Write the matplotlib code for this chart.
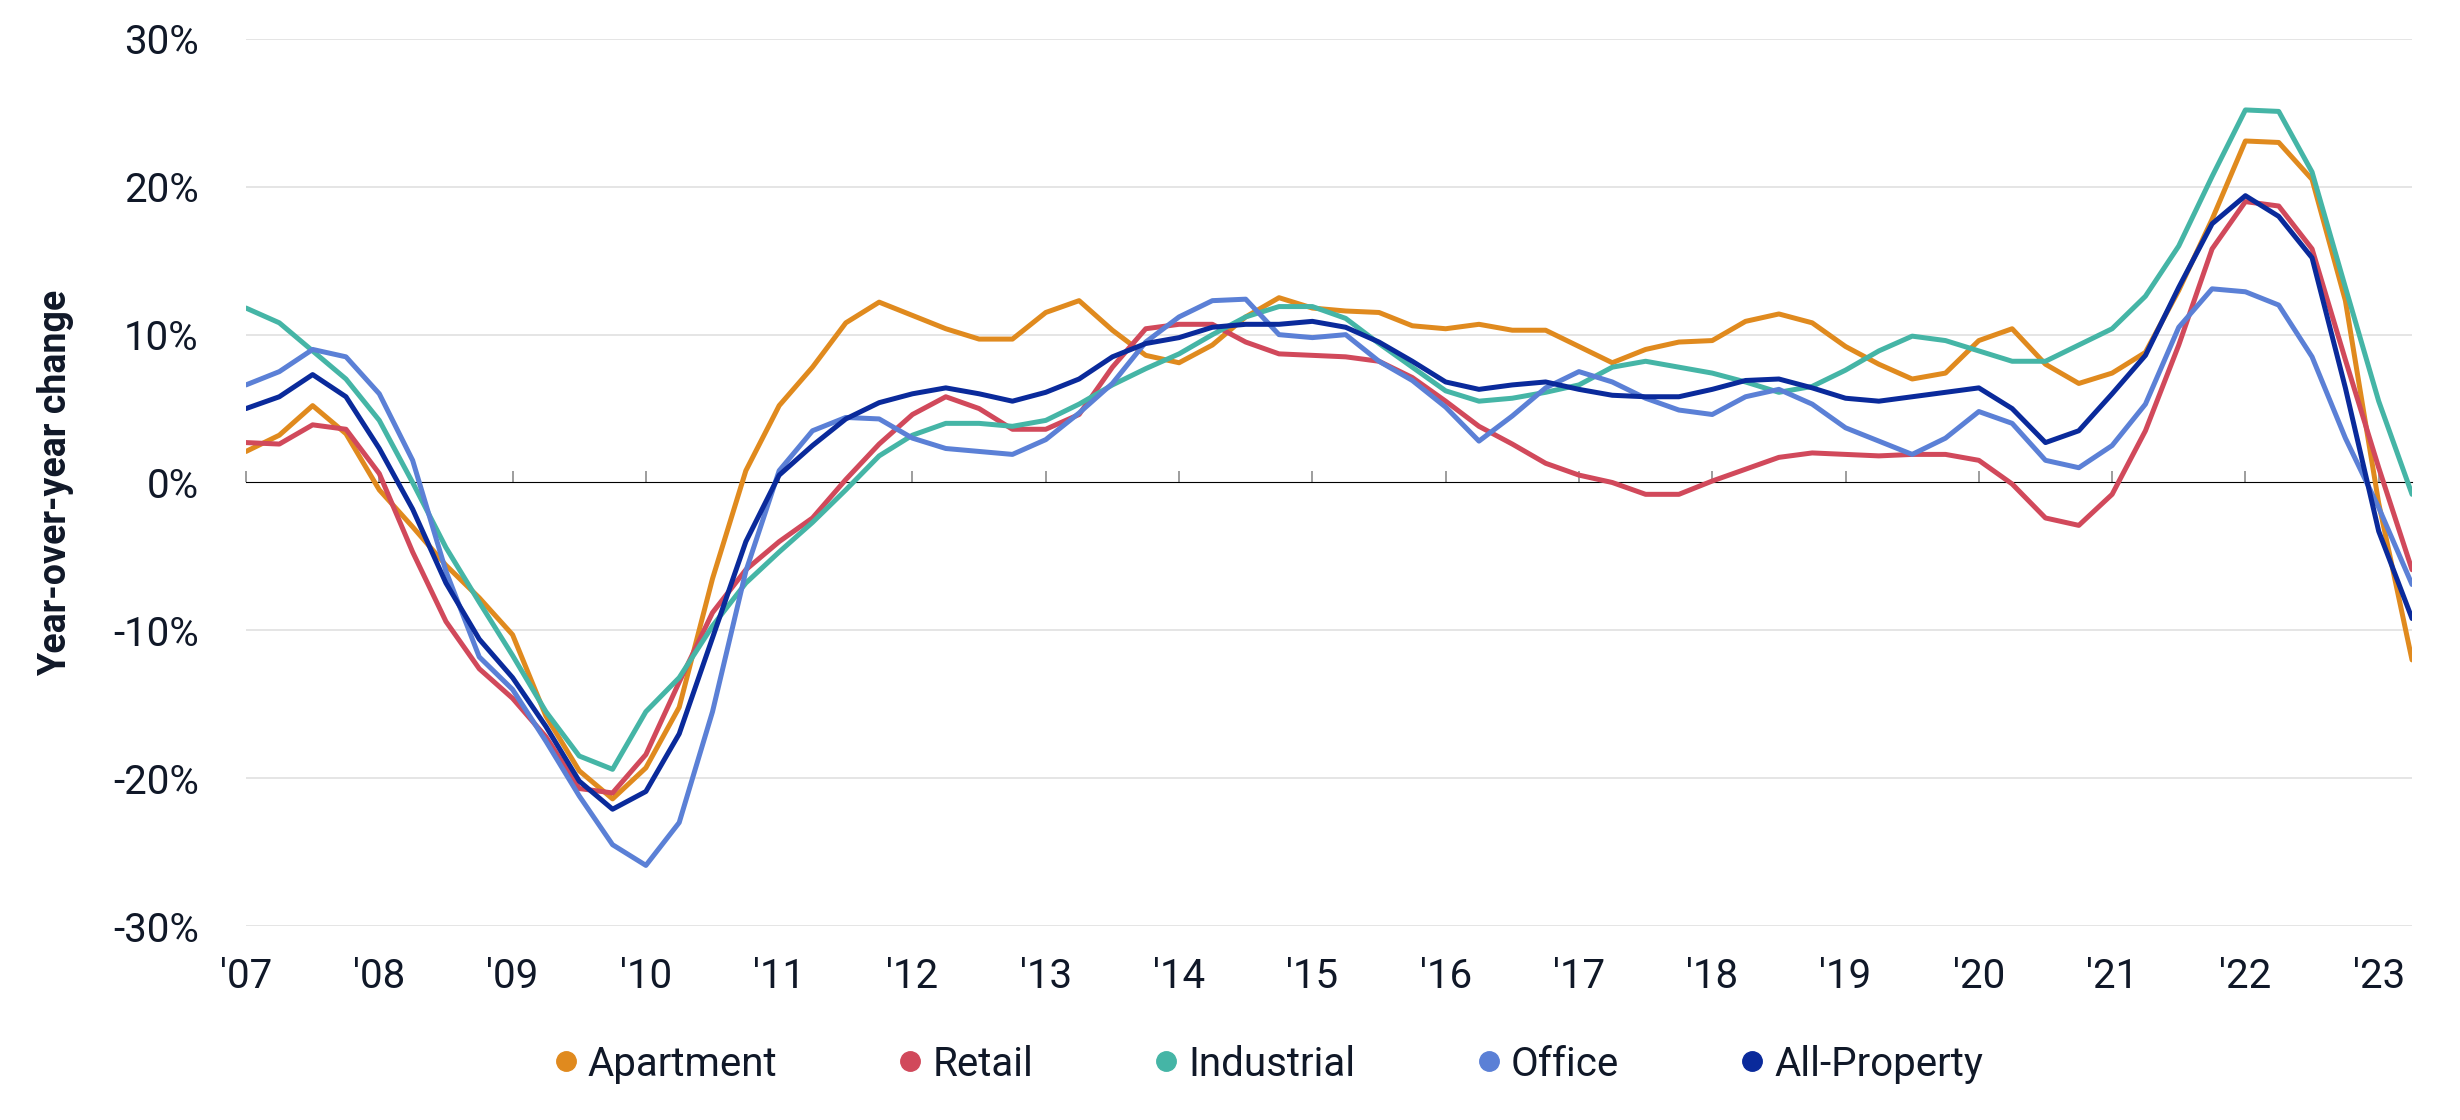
import numpy as np
import matplotlib
matplotlib.use("Agg")
import matplotlib.pyplot as plt
from matplotlib.lines import Line2D

plt.rcParams['font.family'] = ['Roboto', 'DejaVu Sans']

# Quarterly dates (decimal years), 2007 Q1 .. 2023 Q2
dates = [2007 + 0.25 * i for i in range(66)]

apartment = [2.1, 3.2, 5.2, 3.3, -0.5, -3.0, -5.6, -7.8, -10.3, -15.8, -19.5, -21.4, -19.3, -15.2, -6.5, 0.8,
             5.2, 7.8, 10.8, 12.2, 11.3, 10.4, 9.7, 9.7, 11.5, 12.3, 10.3, 8.6, 8.1, 9.3, 11.2, 12.5,
             11.8, 11.6, 11.5, 10.6, 10.4, 10.7, 10.3, 10.3, 9.2, 8.1, 9.0, 9.5, 9.6, 10.9, 11.4, 10.8,
             9.2, 8.0, 7.0, 7.4, 9.6, 10.4, 8.0, 6.7, 7.4, 8.8, 13.0, 17.8, 23.1, 23.0, 20.5, 12.3,
             -1.4, -12.0]
retail = [2.7, 2.6, 3.9, 3.6, 0.6, -4.7, -9.4, -12.6, -14.6, -17.2, -20.7, -21.0, -18.4, -13.5, -8.8, -5.9,
          -4.0, -2.4, 0.2, 2.6, 4.6, 5.8, 5.0, 3.6, 3.6, 4.6, 7.8, 10.4, 10.7, 10.7, 9.5, 8.7,
          8.6, 8.5, 8.2, 7.1, 5.5, 3.8, 2.6, 1.3, 0.5, 0.0, -0.8, -0.8, 0.1, 0.9, 1.7, 2.0,
          1.9, 1.8, 1.9, 1.9, 1.5, -0.1, -2.4, -2.9, -0.8, 3.5, 9.3, 15.8, 19.0, 18.7, 15.8, 8.3,
          1.0, -5.9]
industrial = [11.8, 10.8, 8.9, 7.0, 4.2, 0.0, -4.4, -8.1, -11.7, -15.5, -18.5, -19.4, -15.5, -13.2, -9.7, -6.8,
              -4.7, -2.7, -0.5, 1.8, 3.2, 4.0, 4.0, 3.8, 4.2, 5.3, 6.6, 7.7, 8.7, 10.0, 11.2, 11.9,
              11.9, 11.1, 9.4, 7.8, 6.2, 5.5, 5.7, 6.1, 6.6, 7.8, 8.2, 7.8, 7.4, 6.8, 6.1, 6.5,
              7.6, 8.9, 9.9, 9.6, 8.9, 8.2, 8.2, 9.3, 10.4, 12.6, 16.0, 20.7, 25.2, 25.1, 21.0, 13.2,
              5.5, -0.8]
office = [6.6, 7.5, 9.0, 8.5, 6.0, 1.5, -6.0, -11.8, -14.0, -17.5, -21.2, -24.5, -25.9, -23.0, -15.5, -6.0,
          0.8, 3.5, 4.4, 4.3, 3.0, 2.3, 2.1, 1.9, 2.9, 4.7, 6.7, 9.5, 11.2, 12.3, 12.4, 10.0,
          9.8, 10.0, 8.2, 6.9, 5.1, 2.8, 4.5, 6.4, 7.5, 6.8, 5.7, 4.9, 4.6, 5.8, 6.3, 5.3,
          3.7, 2.8, 1.9, 3.0, 4.8, 4.0, 1.5, 1.0, 2.5, 5.3, 10.5, 13.1, 12.9, 12.0, 8.5, 3.0,
          -1.7, -6.9]
all_property = [5.0, 5.8, 7.3, 5.8, 2.3, -1.8, -6.8, -10.6, -13.2, -16.5, -20.2, -22.1, -20.9, -17.0, -10.5, -4.0,
                0.5, 2.5, 4.3, 5.4, 6.0, 6.4, 6.0, 5.5, 6.1, 7.0, 8.5, 9.4, 9.8, 10.5, 10.7, 10.7,
                10.9, 10.5, 9.5, 8.2, 6.8, 6.3, 6.6, 6.8, 6.3, 5.9, 5.8, 5.8, 6.3, 6.9, 7.0, 6.4,
                5.7, 5.5, 5.8, 6.1, 6.4, 5.0, 2.7, 3.5, 6.0, 8.6, 13.2, 17.5, 19.4, 18.0, 15.2, 6.4,
                -3.3, -9.2]

series_names = ["Apartment", "Retail", "Industrial", "Office", "All-Property"]
series_values = [apartment, retail, industrial, office, all_property]
series_colors = ["#E08A1E", "#D1495B", "#45B5A6", "#5B80D6", "#0A2A9B"]

year_ticks = list(range(2007, 2024))
year_labels = ["'%02d" % (y % 100) for y in year_ticks]
y_ticks = [-30, -20, -10, 0, 10, 20, 30]
y_labels = ["%d%%" % v for v in y_ticks]

text_color = "#101828"

fig = plt.figure(figsize=(24.6, 11.2), dpi=100)
ax = fig.add_axes([0.1, 0.1732, 0.8805, 0.792])

for name, vals, col in zip(series_names, series_values, series_colors):
    ax.plot(dates, vals, color=col, lw=3.6, solid_joinstyle='round', solid_capstyle='round', zorder=3)

ax.set_xlim(dates[0], dates[-1])
ax.set_ylim(-30, 30)

# gridlines
for v in y_ticks:
    if v != 0:
        ax.axhline(v, color="#E3E3E3", lw=1.3, zorder=1)

for s in ax.spines.values():
    s.set_visible(False)

ax.set_yticks(y_ticks)
ax.set_yticklabels(y_labels)
ax.tick_params(axis='y', length=0, pad=34, labelsize=29, labelcolor=text_color)

ax.set_xticks(year_ticks)
ax.set_xticklabels(year_labels)
ax.tick_params(axis='x', length=0, pad=22, labelsize=29, labelcolor=text_color)

# zero line with tick marks
sec = ax.secondary_xaxis(0.5)
sec.set_xticks(year_ticks, labels=[""] * len(year_ticks))
sec.tick_params(axis='x', length=8, width=1.2, color="#8C8C8C", direction='out')
sec.spines['bottom'].set_color("#8C8C8C")
sec.spines['bottom'].set_linewidth(1.3)

ax.set_ylabel("Year-over-year change", fontsize=27, fontweight='bold', color=text_color, labelpad=28)

handles = [Line2D([], [], marker='o', linestyle='none', markersize=14, color=c) for c in series_colors]
fig.legend(handles, series_names, loc='center', bbox_to_anchor=(0.516, 0.05), ncol=5, frameon=False,
           fontsize=29, handlelength=0.5, handletextpad=0.3, columnspacing=3.05, labelcolor=text_color)

fig.savefig("out.png", dpi=100, facecolor='white')
